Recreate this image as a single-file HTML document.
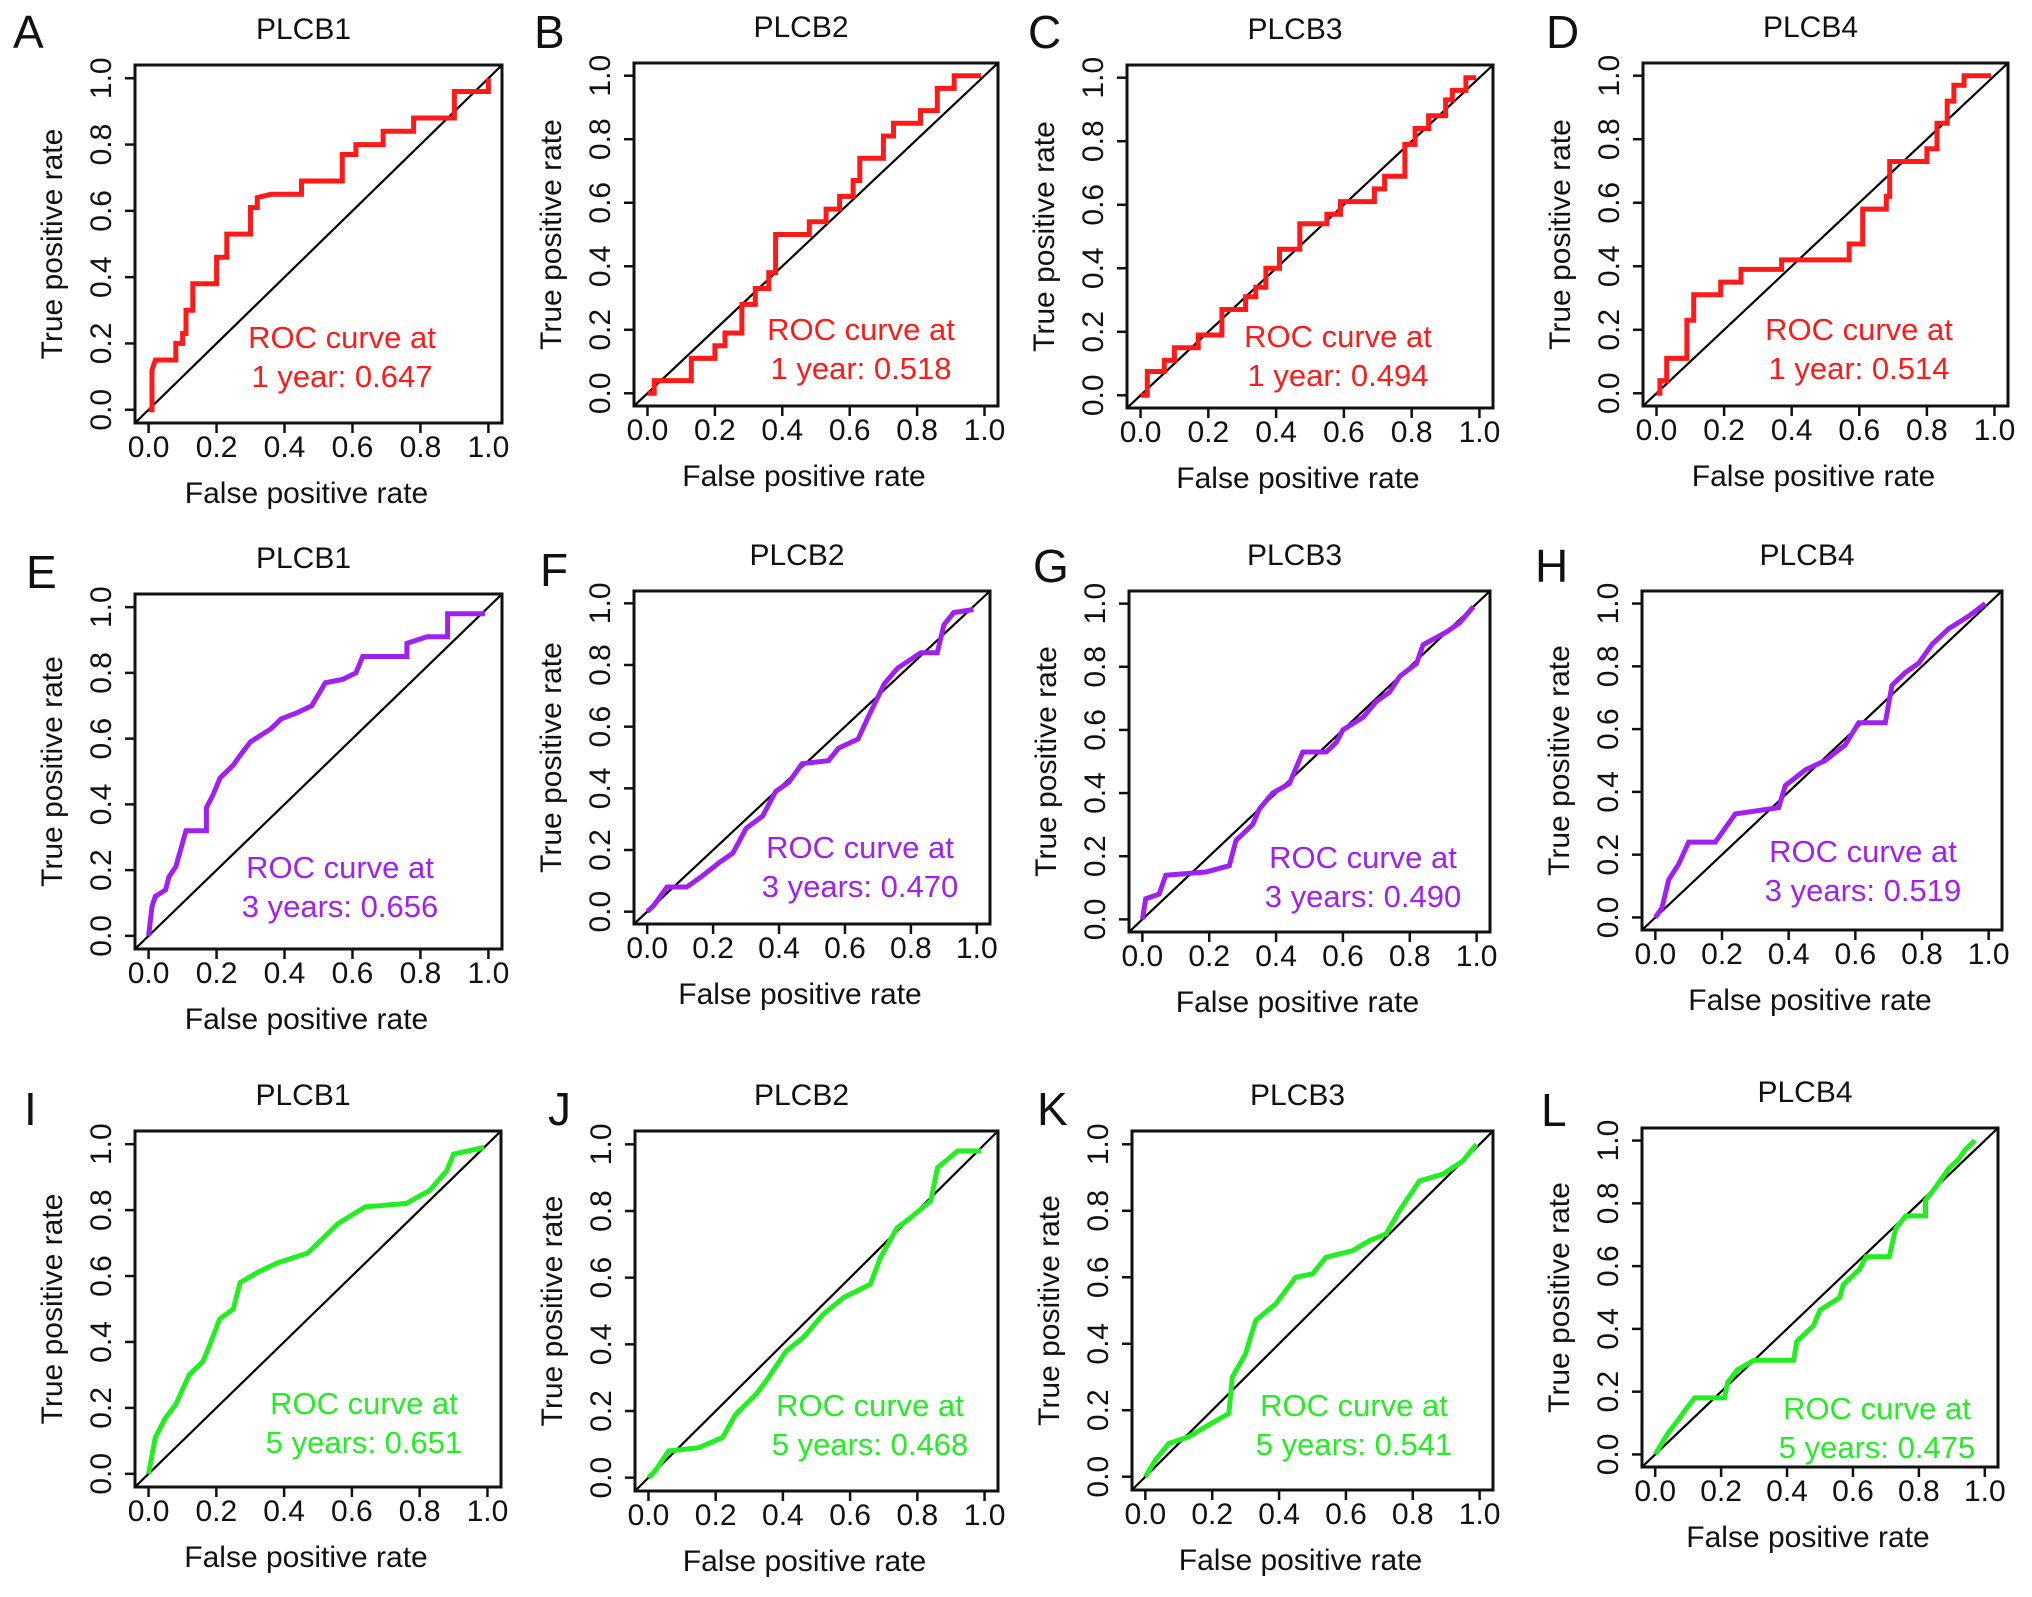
<!DOCTYPE html>
<html><head><meta charset="utf-8"><style>
html,body{margin:0;padding:0;background:#fff;}
svg{display:block;font-family:"Liberation Sans",Arial,sans-serif;}
</style></head><body>
<svg id="fig" width="2032" height="1597" viewBox="0 0 2032 1597" xmlns="http://www.w3.org/2000/svg"></svg>
<script>
// ---- data (fpr / tpr vertices) ----
const fprA=[0,0.01,0.01,0.02,0.08,0.08,0.1,0.1,0.11,0.11,0.13,0.13,0.2,0.2,0.23,0.23,0.3,0.3,0.32,0.32,0.36,0.45,0.45,0.57,0.57,0.61,0.61,0.69,0.69,0.78,0.78,0.9,0.9,1,1];
const tprA=[0,0,0.12,0.15,0.15,0.2,0.2,0.23,0.23,0.3,0.3,0.38,0.38,0.46,0.46,0.53,0.53,0.61,0.61,0.64,0.65,0.65,0.69,0.69,0.77,0.77,0.8,0.8,0.84,0.84,0.88,0.88,0.96,0.96,1];
const fprB=[0,0.02,0.02,0.13,0.13,0.2,0.2,0.23,0.23,0.28,0.28,0.32,0.32,0.36,0.36,0.38,0.38,0.48,0.48,0.53,0.53,0.57,0.57,0.61,0.61,0.63,0.63,0.7,0.7,0.73,0.73,0.81,0.81,0.86,0.86,0.91,0.91,0.99];
const tprB=[0,0,0.04,0.04,0.11,0.11,0.15,0.15,0.19,0.19,0.28,0.28,0.33,0.33,0.38,0.38,0.5,0.5,0.54,0.54,0.58,0.58,0.62,0.62,0.67,0.67,0.74,0.74,0.81,0.81,0.85,0.85,0.89,0.89,0.96,0.96,1,1];
const fprC=[0,0.02,0.02,0.07,0.07,0.1,0.1,0.17,0.17,0.24,0.24,0.31,0.31,0.34,0.34,0.37,0.37,0.41,0.41,0.47,0.47,0.55,0.55,0.59,0.59,0.69,0.69,0.72,0.72,0.78,0.78,0.81,0.81,0.85,0.85,0.9,0.9,0.92,0.92,0.96,0.96,0.99];
const tprC=[0,0,0.075,0.075,0.11,0.11,0.15,0.15,0.19,0.19,0.27,0.27,0.31,0.31,0.34,0.34,0.4,0.4,0.46,0.46,0.54,0.54,0.57,0.57,0.61,0.61,0.65,0.65,0.69,0.69,0.79,0.79,0.84,0.84,0.88,0.88,0.93,0.93,0.96,0.96,1,1];
const fprD=[0,0.01,0.01,0.03,0.03,0.09,0.09,0.11,0.11,0.19,0.19,0.25,0.25,0.37,0.37,0.57,0.57,0.61,0.61,0.68,0.68,0.69,0.69,0.8,0.8,0.83,0.83,0.86,0.86,0.88,0.88,0.91,0.91,0.99];
const tprD=[0,0,0.04,0.04,0.11,0.11,0.23,0.23,0.31,0.31,0.35,0.35,0.39,0.39,0.42,0.42,0.47,0.47,0.58,0.58,0.62,0.62,0.73,0.73,0.77,0.77,0.85,0.85,0.92,0.92,0.97,0.97,1,1];
const fprE=[0,0.01,0.02,0.05,0.06,0.08,0.11,0.17,0.17,0.19,0.21,0.25,0.27,0.30,0.33,0.36,0.39,0.44,0.48,0.52,0.57,0.61,0.63,0.76,0.76,0.82,0.88,0.88,0.99];
const tprE=[0,0.09,0.12,0.14,0.18,0.21,0.32,0.32,0.39,0.43,0.48,0.52,0.55,0.59,0.61,0.63,0.66,0.68,0.70,0.77,0.78,0.80,0.85,0.85,0.89,0.91,0.91,0.98,0.98];
const fprF=[0,0.02,0.06,0.12,0.16,0.22,0.26,0.30,0.35,0.39,0.43,0.47,0.55,0.58,0.64,0.67,0.72,0.76,0.83,0.88,0.90,0.93,0.99];
const tprF=[0,0.02,0.08,0.08,0.11,0.16,0.19,0.27,0.31,0.39,0.42,0.48,0.49,0.53,0.56,0.63,0.74,0.79,0.84,0.84,0.93,0.97,0.98];
const fprG=[0,0.01,0.05,0.07,0.19,0.26,0.28,0.33,0.35,0.39,0.44,0.48,0.55,0.58,0.60,0.66,0.70,0.74,0.77,0.82,0.84,0.91,0.95,0.99];
const tprG=[0,0.065,0.08,0.14,0.15,0.17,0.25,0.30,0.35,0.40,0.43,0.53,0.53,0.56,0.60,0.64,0.69,0.72,0.77,0.81,0.87,0.91,0.94,0.99];
const fprH=[0,0.02,0.04,0.07,0.10,0.18,0.24,0.37,0.39,0.45,0.51,0.57,0.61,0.69,0.71,0.75,0.79,0.83,0.88,0.94,0.99];
const tprH=[0,0.03,0.12,0.17,0.24,0.24,0.33,0.35,0.42,0.47,0.50,0.55,0.62,0.62,0.74,0.78,0.81,0.87,0.92,0.96,1.0];
const fprI=[0,0.02,0.05,0.08,0.12,0.16,0.18,0.21,0.25,0.27,0.32,0.38,0.47,0.53,0.56,0.64,0.76,0.83,0.88,0.90,0.99];
const tprI=[0,0.11,0.17,0.21,0.30,0.34,0.39,0.47,0.50,0.58,0.61,0.64,0.67,0.73,0.76,0.81,0.82,0.86,0.92,0.97,0.99];
const fprJ=[0,0.02,0.06,0.15,0.22,0.26,0.32,0.35,0.41,0.46,0.52,0.58,0.66,0.69,0.74,0.78,0.84,0.86,0.92,0.99];
const tprJ=[0,0.02,0.08,0.09,0.12,0.19,0.25,0.29,0.38,0.42,0.49,0.54,0.58,0.66,0.75,0.78,0.83,0.93,0.98,0.98];
const fprK=[0,0.03,0.07,0.13,0.18,0.25,0.26,0.30,0.33,0.39,0.45,0.50,0.54,0.62,0.67,0.72,0.76,0.82,0.89,0.95,0.99];
const tprK=[0,0.05,0.10,0.12,0.15,0.19,0.30,0.37,0.47,0.52,0.60,0.61,0.66,0.68,0.71,0.73,0.80,0.89,0.91,0.95,1.0];
const fprL=[0,0.04,0.07,0.09,0.12,0.21,0.22,0.25,0.30,0.42,0.43,0.48,0.50,0.56,0.57,0.62,0.64,0.71,0.73,0.76,0.82,0.82,0.85,0.89,0.92,0.94,0.97];
const tprL=[0,0.07,0.11,0.14,0.18,0.18,0.23,0.27,0.30,0.30,0.36,0.41,0.46,0.50,0.54,0.59,0.63,0.63,0.72,0.76,0.76,0.81,0.85,0.91,0.94,0.97,1.0];
const titles=["PLCB1","PLCB2","PLCB3","PLCB4","PLCB1","PLCB2","PLCB3","PLCB4","PLCB1","PLCB2","PLCB3","PLCB4"];
const letters=["A","B","C","D","E","F","G","H","I","J","K","L"];
const aucs=["0.647","0.518","0.494","0.514","0.656","0.470","0.490","0.519","0.651","0.468","0.541","0.475"];
const periods=["1 year","1 year","1 year","1 year","3 years","3 years","3 years","3 years","5 years","5 years","5 years","5 years"];
const tickVals=[0,0.2,0.4,0.6,0.8,1.0];
const tickLabels=["0.0","0.2","0.4","0.6","0.8","1.0"];
const fprs=[fprA,fprB,fprC,fprD,fprE,fprF,fprG,fprH,fprI,fprJ,fprK,fprL];
const tprs=[tprA,tprB,tprC,tprD,tprE,tprF,tprG,tprH,tprI,tprJ,tprK,tprL];

// ---- layout ----
const boxes=[[135,65,502,423],[634,63,998,406],[1127,65,1493,408],[1643,63,2008,406],
 [135,594,502,949],[634,591,990,924],[1129,591,1490,932],[1642,591,2002,930],
 [135,1131,501,1487],[635,1131,998,1491],[1132,1131,1493,1490],[1642,1128,1998,1467]];
const letterX=[13,534,1028,1546,26,540,1033,1535,24,548,1037,1541];
const letterY=[48,48,48,48,588,586,582,582,1125,1125,1125,1126];
const rocX=[342,861,1338,1859,340,860,1363,1863,364,870,1354,1877];
const rocY=[348,340,347,340,878,858,868,862,1414,1416,1416,1419];
const colors=["#ff1a1a","#ff1a1a","#ff1a1a","#ff1a1a","#a020f0","#a020f0","#a020f0","#a020f0","#22ee22","#22ee22","#22ee22","#22ee22"];

const NS="http://www.w3.org/2000/svg";
const svg=document.getElementById('fig');
function mk(tag,attrs,parent){const e=document.createElementNS(NS,tag);for(const k in attrs)e.setAttribute(k,attrs[k]);(parent||svg).appendChild(e);return e;}

for(let p=0;p<12;p++){
  const [L,T,R,B]=boxes[p];
  const w=R-L,h=B-T;
  const xs=v=>L+w*(v+0.04)/1.08;
  const ys=v=>B-h*(v+0.04)/1.08;
  const g=mk('g',{});
  
  

  const lt=mk('text',{x:letterX[p],y:letterY[p],'font-size':46,fill:'#111'},g);
  lt.textContent=letters[p];
  
  

  const tt=mk('text',{x:(L+R)/2-15,y:T-26,'font-size':30,'text-anchor':'middle',fill:'#111'},g);
  tt.textContent=titles[p];
  
  

  // diagonal
  const dg=mk('line',{x1:xs(-0.04),y1:ys(-0.04),x2:xs(1.04),y2:ys(1.04),stroke:'#000','stroke-width':2.2},g);
  
  

  // curve
  const fp=fprs[p],tp=tprs[p];
  let d='';
  for(let i=0;i<fp.length;i++){d+=(i?'L':'M')+xs(fp[i]).toFixed(1)+' '+ys(tp[i]).toFixed(1);}
  const cv=mk('path',{d:d,fill:'none',stroke:colors[p],'stroke-width':5,'stroke-linejoin':'miter'},g);
  
  

  // box
  const bx=mk('rect',{x:L,y:T,width:w,height:h,fill:'none',stroke:'#111','stroke-width':3},g);
  
  

  // ticks
  for(let i=0;i<tickVals.length;i++){
    const xv=xs(tickVals[i]),yv=ys(tickVals[i]);
    const xt=mk('line',{x1:xv,y1:B,x2:xv,y2:B+10,stroke:'#111','stroke-width':2.5},g);
    
    
    const xl=mk('text',{x:xv,y:B+34,'font-size':30,'text-anchor':'middle',fill:'#111'},g);
    xl.textContent=tickLabels[i];
    
    
    const yt=mk('line',{x1:L,y1:yv,x2:L-10,y2:yv,stroke:'#111','stroke-width':2.5},g);
    
    
    const yl=mk('text',{x:0,y:0,'font-size':30,'text-anchor':'middle',fill:'#111',transform:`translate(${L-24},${yv}) rotate(-90)`},g);
    yl.textContent=tickLabels[i];
    
    
  }
  const xa=mk('text',{x:(L+R)/2-12,y:B+80,'font-size':30,'text-anchor':'middle',fill:'#111'},g);
  xa.textContent='False positive rate';
  
  
  const ya=mk('text',{x:0,y:0,'font-size':30,'text-anchor':'middle',fill:'#111',transform:`translate(${L-73},${(T+B)/2}) rotate(-90)`},g);
  ya.textContent='True positive rate';
  
  

  const r1=mk('text',{x:rocX[p],y:rocY[p],'font-size':31,'text-anchor':'middle',fill:colors[p]},g);
  r1.textContent='ROC curve at';
  
  
  const r2=mk('text',{x:rocX[p],y:rocY[p]+39,'font-size':31,'text-anchor':'middle',fill:colors[p]},g);
  r2.textContent=periods[p]+': '+aucs[p];
  
  
}
</script>
</body></html>
